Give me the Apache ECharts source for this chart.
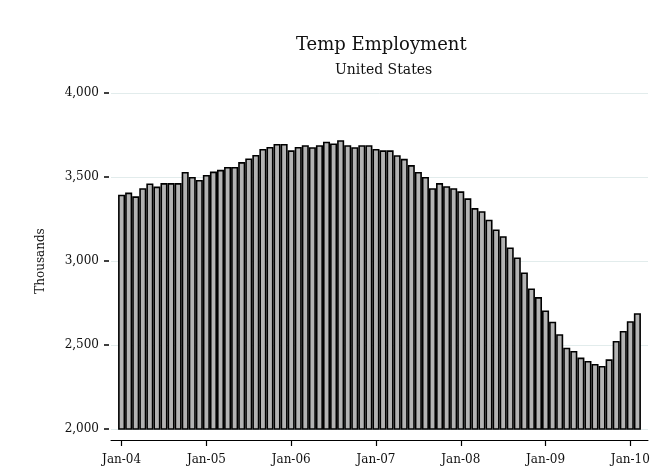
<!DOCTYPE html>
<html>
<head>
<meta charset="utf-8">
<script src="https://cdn.jsdelivr.net/npm/echarts@6/dist/echarts.min.js"></script>
<style>
html,body{margin:0;padding:0;background:#fff;}
#chart{width:667px;height:474px;}
</style>
</head>
<body>
<div id="chart"></div>
<script>
// Monthly temp employment, thousands, Jan-2004 .. Feb-2010
var startYear = 2004;
var monthNames = ['Jan','Feb','Mar','Apr','May','Jun','Jul','Aug','Sep','Oct','Nov','Dec'];
var values = [
  3395, 3407, 3385, 3433, 3462, 3443, 3464, 3464, 3464, 3530, 3500, 3482,
  3512, 3532, 3543, 3560, 3560, 3589, 3610, 3631, 3667, 3679, 3697, 3697,
  3659, 3679, 3689, 3677, 3689, 3710, 3700, 3719, 3689, 3677, 3689, 3689,
  3667, 3659, 3659, 3630, 3608, 3571, 3530, 3500, 3433, 3464, 3445, 3433,
  3415, 3373, 3315, 3296, 3246, 3188, 3148, 3081, 3021, 2932, 2837, 2785,
  2706, 2639, 2564, 2484, 2465, 2425, 2405, 2387, 2375, 2415, 2524, 2584,
  2642, 2689
];
var tickLabels = ['Jan-04','Jan-05','Jan-06','Jan-07','Jan-08','Jan-09','Jan-10'];
var yTicks = [2000, 2500, 3000, 3500, 4000];

// categories: one empty pad slot on each side of the months
var categories = [''];
var data = ['-'];
for (var i = 0; i < values.length; i++) {
  var y = startYear + Math.floor(i / 12);
  categories.push(monthNames[i % 12] + '-' + String(y).slice(2));
  data.push(values[i]);
}
categories.push('');
data.push('-');

function isTick(idx, val) { return tickLabels.indexOf(val) >= 0; }

var font = 'DejaVu Serif';
var chart = echarts.init(document.getElementById('chart'), null, {renderer: 'canvas'});
chart.setOption({
  backgroundColor: '#ffffff',
  animation: false,
  title: [
    {text: 'Temp Employment', left: 291, top: 31,
     textStyle: {fontFamily: font, fontSize: 18, fontWeight: 'normal', color: '#111'}},
    {text: 'United States', left: 330, top: 58,
     textStyle: {fontFamily: font, fontSize: 14, fontWeight: 'normal', color: '#111'}}
  ],
  grid: {left: 111, right: 19, top: 93, bottom: 45, containLabel: false},
  xAxis: {
    type: 'category',
    data: categories,
    boundaryGap: true,
    offset: 11,
    axisLine: {show: true, lineStyle: {color: '#000', width: 1}},
    axisTick: {show: true, alignWithLabel: true, interval: isTick, length: 6, lineStyle: {color: '#000', width: 1.2}},
    axisLabel: {interval: isTick, margin: 14, fontFamily: font, fontSize: 12, color: '#111'},
    splitLine: {show: false}
  },
  yAxis: {
    type: 'value',
    min: 2000, max: 4000, interval: 500,
    offset: 2,
    name: 'Thousands',
    nameLocation: 'middle',
    nameRotate: 90,
    nameGap: 62,
    nameTextStyle: {fontFamily: font, fontSize: 12, color: '#111'},
    axisLine: {show: false},
    axisTick: {show: true, length: 5, lineStyle: {color: '#000', width: 1.5}},
    axisLabel: {
      margin: 10, fontFamily: font, fontSize: 12, color: '#111',
      formatter: function (v) { return yTicks.indexOf(v) >= 0 ? v.toLocaleString('en-US') : ''; }
    },
    splitLine: {show: true, lineStyle: {color: '#e2ecec', width: 1}}
  },
  series: [{
    type: 'bar',
    data: data,
    barCategoryGap: '0%',
    itemStyle: {color: '#b3b3b3', borderColor: '#000', borderWidth: 1.6}
  }]
});
</script>
</body>
</html>
